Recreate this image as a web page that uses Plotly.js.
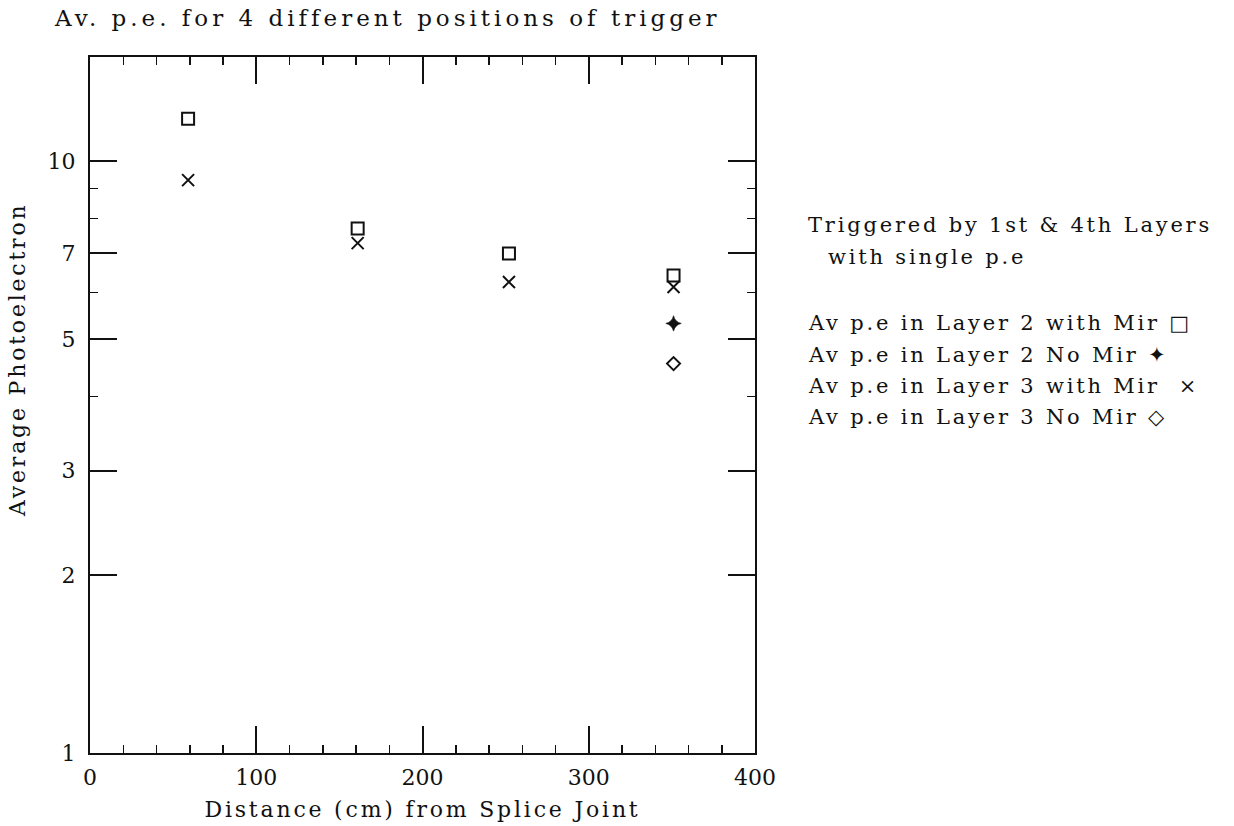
<!DOCTYPE html>
<html>
<head>
<meta charset="utf-8">
<script src="https://cdn.plot.ly/plotly-3.0.1.min.js"></script>
<style>
  html, body { margin: 0; padding: 0; background: #fff; }
  #chart { width: 1234px; height: 826px; }
  text.annotation-text { letter-spacing: 2.8px; }
  text.gtitle { letter-spacing: 4px; }
  text.xtitle, text.ytitle { letter-spacing: 2.8px; }
</style>
</head>
<body>
<div id="chart"></div>
<script>
// ---- data ----
const distanceCm = [59, 161, 252, 351];
const layer2WithMir = [11.8, 7.7, 6.98, 6.41];
const layer3WithMir = [9.29, 7.27, 6.25, 6.13];
const noMirDistance = [351];
const layer2NoMir = [5.32];
const layer3NoMir = [4.55];

const xTickVals = [0, 100, 200, 300, 400];
const xMinorVals = [20, 40, 60, 80, 120, 140, 160, 180, 220, 240, 260, 280, 320, 340, 360, 380];
const yTickVals = [1, 2, 3, 5, 7, 10];
const yTickText = ['1', '2', '3', '5', '7', '10'];
const yMinorVals = [4, 6, 8, 9];

const titleText = 'Av. p.e. for 4 different positions of trigger';
const xTitleText = 'Distance (cm) from Splice Joint';
const yTitleText = 'Average Photoelectron';
const noteLines = ['Triggered by 1st &amp; 4th Layers', 'with single p.e'];
const legendLines = [
  'Av p.e in Layer 2 with Mir \u25A1',
  'Av p.e in Layer 2 No Mir \u2726',
  'Av p.e in Layer 3 with Mir  \u00D7',
  'Av p.e in Layer 3 No Mir \u25C7'
];

// ---- layout geometry ----
const W = 1234, H = 826;
const M = { l: 90, r: 479, t: 57, b: 73 };
const PW = W - M.l - M.r, PH = H - M.t - M.b;
const px = x => (x - M.l) / PW;          // pixel -> paper x
const py = y => (H - M.b - y) / PH;      // pixel -> paper y

const FONT = 'DejaVu Serif';
const black = '#111';

function mk(symbol, size) {
  return { symbol: symbol, size: size, color: black, line: { color: black, width: 2 } };
}

const traces = [
  { x: distanceCm, y: layer2WithMir, mode: 'markers', type: 'scatter', name: 'Layer 2 with Mir', marker: mk('square-open', 12) },
  { x: distanceCm, y: layer3WithMir, mode: 'markers', type: 'scatter', name: 'Layer 3 with Mir', marker: mk('x-thin-open', 12) },
  { x: noMirDistance, y: layer2NoMir, mode: 'markers', type: 'scatter', name: 'Layer 2 No Mir', marker: { symbol: 'star-diamond', size: 11, color: black, line: { color: black, width: 0.6 } } },
  { x: noMirDistance, y: layer3NoMir, mode: 'markers', type: 'scatter', name: 'Layer 3 No Mir', marker: mk('diamond-open', 10) }
];

const annotations = [];
annotations.push({ xref: 'paper', yref: 'paper', x: px(18), y: py(360), text: yTitleText, textangle: -90,
  showarrow: false, xanchor: 'center', yanchor: 'middle', font: { family: FONT, size: 22, color: black } });
annotations.push({ xref: 'paper', yref: 'paper', x: px(806), y: py(225), text: noteLines[0],
  showarrow: false, xanchor: 'left', yanchor: 'middle', font: { family: FONT, size: 21, color: black } });
annotations.push({ xref: 'paper', yref: 'paper', x: px(826), y: py(257), text: noteLines[1],
  showarrow: false, xanchor: 'left', yanchor: 'middle', font: { family: FONT, size: 21, color: black } });
const legendY = [323, 355, 386, 417];
legendLines.forEach((t, i) => {
  annotations.push({ xref: 'paper', yref: 'paper', x: px(806), y: py(legendY[i]), text: t,
    showarrow: false, xanchor: 'left', yanchor: 'middle', font: { family: FONT, size: 21, color: black } });
});

const layout = {
  width: W, height: H,
  margin: M,
  paper_bgcolor: '#fff', plot_bgcolor: '#fff',
  showlegend: false,
  font: { family: FONT, color: black },
  title: { text: titleText, x: 55 / W, xanchor: 'left', y: 1 - 18 / H, yanchor: 'middle',
    font: { family: FONT, size: 23, color: black } },
  xaxis: {
    range: [0, 400], tickmode: 'array', tickvals: xTickVals,
    ticks: 'inside', ticklen: 27, tickwidth: 2, tickcolor: black,
    showline: true, linewidth: 2, linecolor: black, mirror: 'ticks',
    showgrid: false, zeroline: false,
    tickfont: { family: FONT, size: 22, color: black },
    ticklabelstandoff: 4,
    minor: { tickmode: 'array', tickvals: xMinorVals, ticks: 'inside', ticklen: 8, tickwidth: 1.5, tickcolor: black, showgrid: false },
    title: { text: xTitleText, font: { family: FONT, size: 22, color: black }, standoff: 12 }
  },
  yaxis: {
    type: 'log', range: [0, Math.log10(15)], tickmode: 'array', tickvals: yTickVals, ticktext: yTickText,
    ticks: 'inside', ticklen: 27, tickwidth: 2, tickcolor: black,
    showline: true, linewidth: 2, linecolor: black, mirror: 'ticks',
    showgrid: false, zeroline: false,
    tickfont: { family: FONT, size: 22, color: black },
    ticklabelstandoff: 8,
    minor: { tickmode: 'array', tickvals: yMinorVals, ticks: 'inside', ticklen: 8, tickwidth: 1.5, tickcolor: black, showgrid: false }
  },
  annotations: annotations
};

Plotly.newPlot('chart', traces, layout, { displayModeBar: false, staticPlot: true });
</script>
</body>
</html>
